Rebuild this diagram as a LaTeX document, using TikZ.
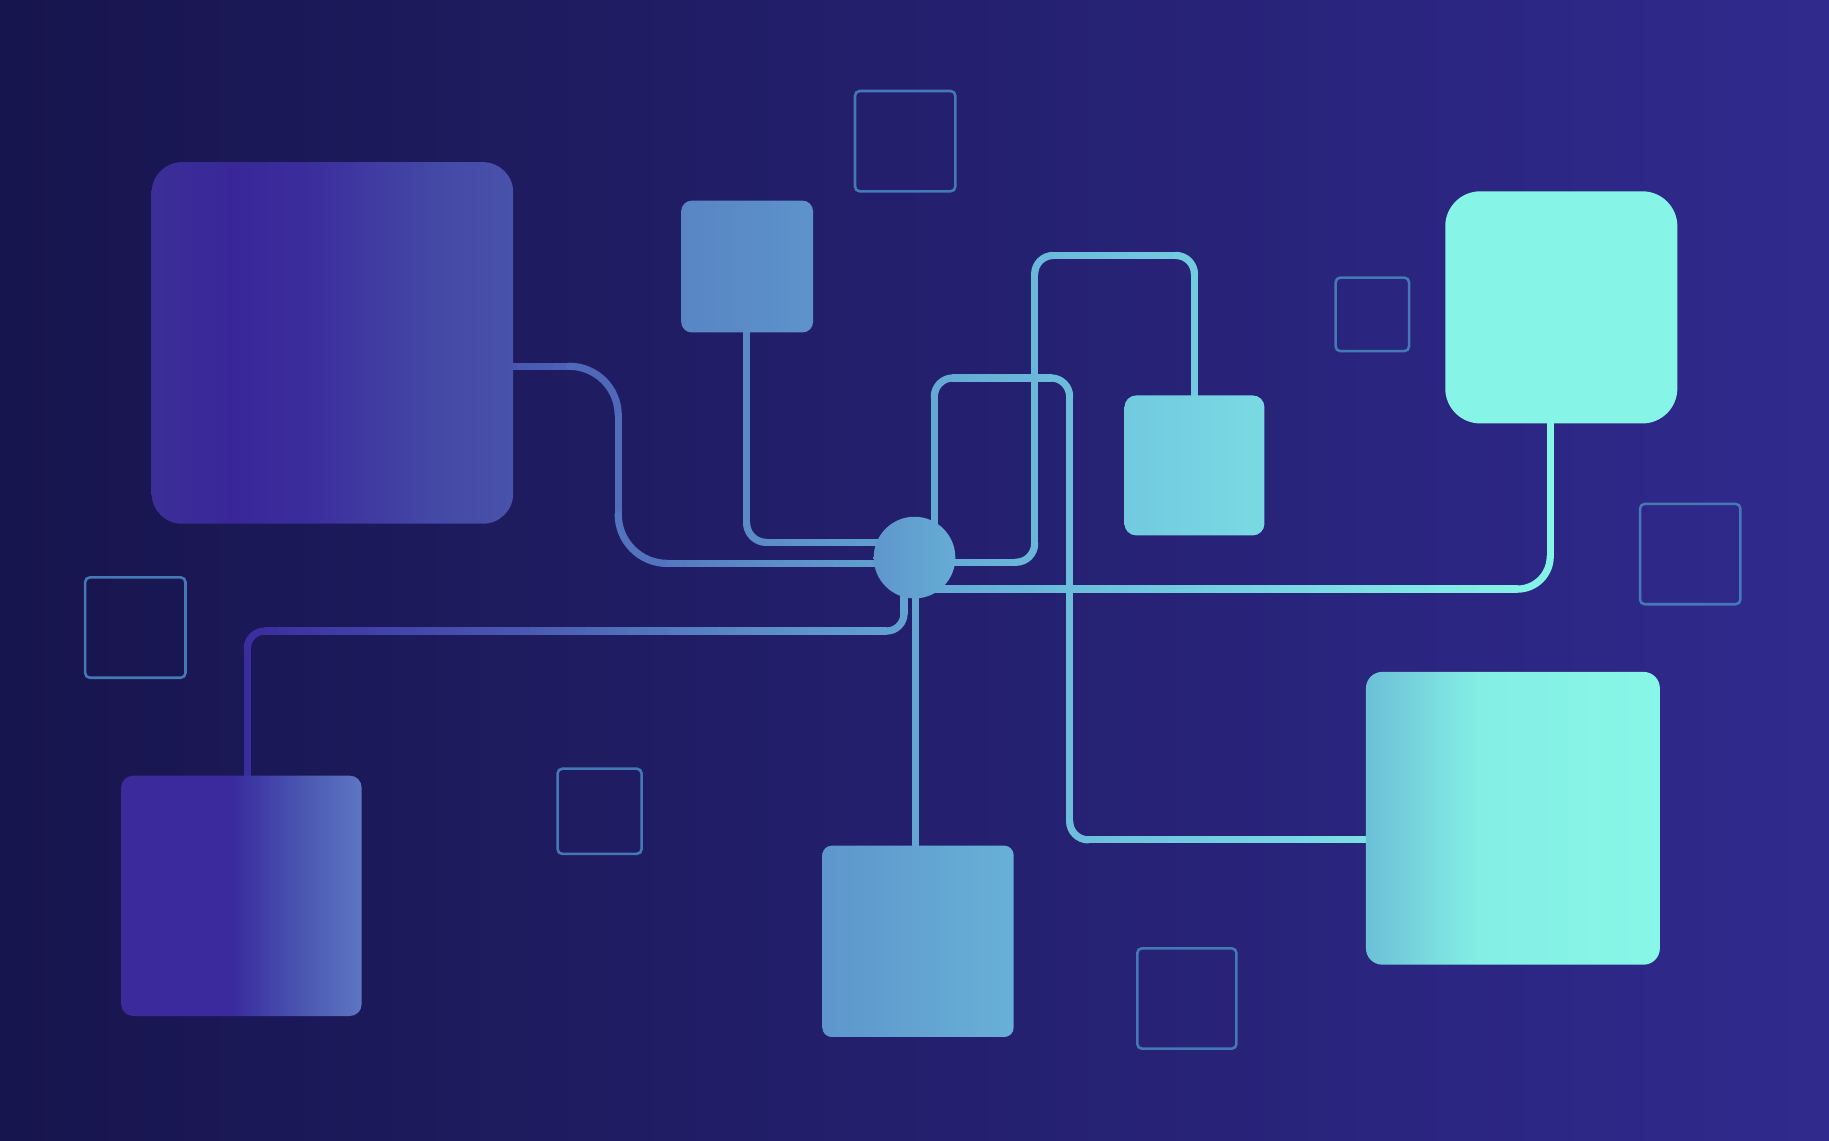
\documentclass[tikz,border=0pt]{standalone}
\usetikzlibrary{calc}
\definecolor{bgL}{HTML}{17154D}
\definecolor{bgR}{HTML}{302A8E}
\definecolor{sA}{HTML}{3A2B9D}
\definecolor{sB}{HTML}{4A58B2}
\definecolor{sC}{HTML}{5A8AC6}
\definecolor{sD}{HTML}{64A8D4}
\definecolor{sE}{HTML}{6CBDDC}
\definecolor{sF}{HTML}{72CCE0}
\definecolor{sG}{HTML}{7DE0E4}
\definecolor{sH}{HTML}{86F4E7}
\definecolor{outl}{HTML}{4479B5}
\definecolor{aA}{HTML}{3C2E97}
\definecolor{aB}{HTML}{392799}
\definecolor{aC}{HTML}{3B2C9C}
\definecolor{aD}{HTML}{4448A6}
\definecolor{aE}{HTML}{4852AB}
\definecolor{eA}{HTML}{3A2A9C}
\definecolor{eB}{HTML}{3A2A9E}
\definecolor{eC}{HTML}{4A55B0}
\definecolor{eD}{HTML}{5D76C2}
\definecolor{gA}{HTML}{6BC0D7}
\definecolor{gB}{HTML}{84EEE5}
\definecolor{gC}{HTML}{87F7E7}
\colorlet{lc}{sA}
\pgfdeclarehorizontalshading{shA}{100bp}{color(0bp)=(aA); color(25bp)=(aA); color(36bp)=(aB); color(46bp)=(aC); color(64bp)=(aD); color(75bp)=(aE); color(100bp)=(aE)}
\pgfdeclarehorizontalshading{shE}{100bp}{color(0bp)=(eA); color(25bp)=(eA); color(48bp)=(eB); color(62bp)=(eC); color(75bp)=(eD); color(100bp)=(eD)}
\pgfdeclarehorizontalshading{shG}{100bp}{color(0bp)=(gA); color(25bp)=(gA); color(44bp)=(gB); color(75bp)=(gC); color(100bp)=(gC)}
\newcommand\lcstep[4]{%
  \ifnum\lcdone=0
    \ifdim\lcx pt<#2pt
      \pgfmathsetmacro\lcp{max(0,min(100,(#2-\lcx)/(#2-#1)*100))}%
      \colorlet{lc}{#3!\lcp!#4}%
      \def\lcdone{1}%
    \fi
  \fi}
\newcommand\setlc[1]{%
  \pgfmathsetmacro\lcx{#1}\def\lcdone{0}%
  \lcstep{200}{450}{sA}{sB}\lcstep{450}{640}{sB}{sC}\lcstep{640}{800}{sC}{sD}%
  \lcstep{800}{920}{sD}{sE}\lcstep{920}{1024}{sE}{sF}\lcstep{1024}{1171}{sF}{sG}%
  \lcstep{1171}{1330}{sG}{sH}%
  \ifnum\lcdone=0 \colorlet{lc}{sH}\fi}
\newcommand\hseg[3]{%
  \pgfmathtruncatemacro\hsn{max(1,round((#2-#1)/6))}%
  \pgfmathsetmacro\hsd{(#2-#1)/\hsn}%
  \foreach \k in {1,...,\hsn}{%
    \pgfmathsetmacro\xa{#1+\hsd*(\k-1)}%
    \pgfmathsetmacro\xb{#1+\hsd*\k}%
    \setlc{(\xa+\xb)/2}%
    \draw[conn,draw=lc,shorten <=-0.5pt,shorten >=-0.5pt] (\xa,#3) -- (\xb,#3);
  }}
\newcommand\vseg[3]{%
  \setlc{#1}%
  \draw[conn,draw=lc,line cap=round] (#1,#2) -- (#1,#3);}
\newcommand\crn[7]{%
  \setlc{(#1+#5)/2}%
  \draw[conn,draw=lc,line cap=round,rounded corners=#7pt] (#1,#2) -- (#3,#4) -- (#5,#6);}
\begin{document}
\begin{tikzpicture}[x=1pt,y=-1pt,
  conn/.style={line width=6.2pt, line cap=butt},
  sq/.style={inner sep=0pt, outer sep=0pt, minimum width=#1, minimum height=#1},
  ghost/.style={draw=outl, line width=2.2pt, rounded corners=4pt, inner sep=0pt, outer sep=0pt}]
\useasboundingbox (0,0) rectangle (1568,978);
\shade[left color=bgL, right color=bgR] (0,0) rectangle (1568,978);

% connector a : b1 -> hub
\hseg{438}{488}{314}
\crn{488}{314}{530}{314}{530}{356}{42}
\vseg{530}{356}{441}
\crn{530}{441}{530}{483}{572}{483}{42}
\hseg{572}{762}{483}
% connector b : b2 -> hub
\vseg{640}{284}{448}
\crn{640}{448}{640}{465}{657}{465}{17}
\hseg{657}{770}{465}
% connector c : hub -> b5
\vseg{775}{500}{526}
\crn{775}{526}{775}{541}{760}{541}{15}
\hseg{227}{760}{541}
\crn{227}{541}{212}{541}{212}{556}{15}
\vseg{212}{556}{667}
% connector d : hub -> b6
\vseg{785}{478}{727}
% connector e : hub -> b7
\vseg{801}{460}{340}
\crn{801}{340}{801}{324}{817}{324}{16}
\hseg{817}{901}{324}
\crn{901}{324}{917}{324}{917}{340}{16}
\vseg{917}{340}{704}
\crn{917}{704}{917}{720}{933}{720}{16}
\hseg{933}{1173}{720}
% connector f : hub -> b4
\hseg{800}{871}{482}
\crn{871}{482}{887}{482}{887}{466}{16}
\vseg{887}{466}{235}
\crn{887}{235}{887}{219}{903}{219}{16}
\hseg{903}{1008}{219}
\crn{1008}{219}{1024}{219}{1024}{235}{16}
\vseg{1024}{235}{341}
% connector g : hub -> b3
\hseg{800}{1301}{505}
\crn{1301}{505}{1329}{505}{1329}{477}{28}
\vseg{1329}{477}{361}

% boxes
\node[sq=310, rounded corners=26pt, shading=shA] (b1) at (285,294) {};
\node[sq=113, rounded corners=9pt, left color=sC!90!sB, right color=sC!70!sD] (b2) at (640.5,228.5) {};
\node[sq=199, rounded corners=30pt, fill=sH] (b3) at (1338.5,263.5) {};
\node[sq=120, rounded corners=10pt, left color=sF!85!sE, right color=sG!70!sF] (b4) at (1024,399) {};
\node[sq=206, rounded corners=10pt, shading=shE] (b5) at (207,768) {};
\node[sq=164, rounded corners=8pt, left color=sC!60!sD, right color=sD!60!sE] (b6) at (787,807) {};
\node[inner sep=0pt, outer sep=0pt, minimum width=252, minimum height=251, rounded corners=14pt, shading=shG] (b7) at (1297,701.5) {};
% hub
\node[circle, inner sep=0pt, minimum size=70, left color=sC!60!sD, right color=sD!80!sE] (hub) at (784,478) {};
% outline squares
\node[ghost, minimum width=86, minimum height=86] (o1) at (776,121) {};
\node[ghost, minimum width=63, minimum height=63] (o2) at (1176.5,269.5) {};
\node[ghost, minimum width=86, minimum height=86] (o3) at (1449,475) {};
\node[ghost, minimum width=86, minimum height=86] (o4) at (116,538) {};
\node[ghost, minimum width=72, minimum height=73] (o5) at (514,695.5) {};
\node[ghost, minimum width=85, minimum height=86] (o6) at (1017.5,856) {};
\end{tikzpicture}
\end{document}
